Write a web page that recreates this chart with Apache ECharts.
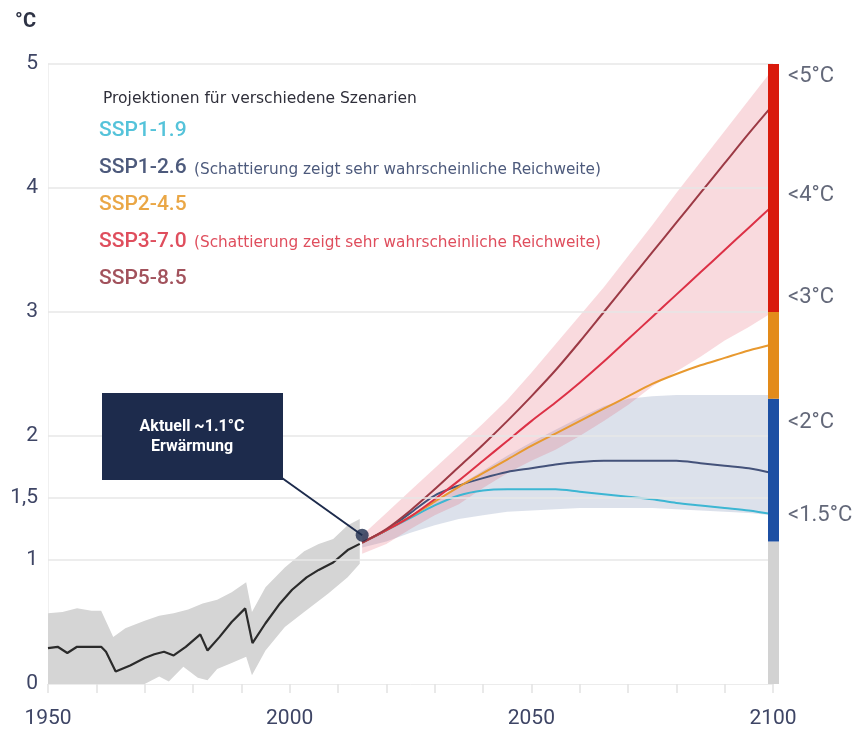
<!DOCTYPE html>
<html>
<head>
<meta charset="utf-8">
<script src="https://cdn.jsdelivr.net/npm/echarts@6/dist/echarts.min.js"></script>
<style>
html, body { margin: 0; padding: 0; background: #fff; }
#main { width: 864px; height: 735px; }
</style>
</head>
<body>
<div id="main"></div>
<script>
// historical warming (year, °C)
const histLine = [[1950,0.29],[1952,0.30],[1954,0.25],[1956,0.30],[1961,0.30],[1962,0.26],[1964,0.10],[1967,0.15],[1970,0.21],[1972,0.24],[1974,0.26],[1976,0.23],[1978.5,0.30],[1981.5,0.40],[1983,0.27],[1985.5,0.38],[1988,0.50],[1990.8,0.61],[1992.3,0.33],[1995,0.49],[1998,0.65],[2000.5,0.76],[2003.5,0.86],[2006,0.92],[2009,0.98],[2012,1.08],[2014.5,1.13]];
const histUpper = [[1950,0.57],[1953,0.58],[1956,0.61],[1959,0.59],[1961,0.59],[1963.5,0.38],[1966,0.45],[1970,0.51],[1973,0.55],[1976,0.57],[1979,0.60],[1982,0.65],[1985,0.68],[1988,0.74],[1991,0.82],[1992.2,0.58],[1995,0.78],[1999,0.94],[2003,1.07],[2006,1.13],[2009,1.17],[2012,1.28],[2014.5,1.33]];
const histLower = [[1950,0],[1970,0],[1973,0.06],[1975,0.02],[1978,0.14],[1981,0.05],[1983,0.03],[1985,0.12],[1988,0.17],[1991,0.22],[1992.2,0.07],[1995,0.27],[1999,0.46],[2003,0.58],[2008,0.73],[2012,0.86],[2014.5,0.97]];
const nowPoint = [2015, 1.2];

// projections
const projYears = [2015,2020,2025,2030,2035,2040,2045,2050,2055,2060,2065,2070,2075,2080,2085,2090,2095,2100];
const ssp119 = [1.14,1.24,1.34,1.44,1.52,1.56,1.57,1.57,1.57,1.55,1.53,1.51,1.49,1.46,1.44,1.42,1.40,1.37];
const ssp126 = [1.14,1.24,1.38,1.52,1.60,1.66,1.71,1.74,1.77,1.79,1.80,1.80,1.80,1.80,1.78,1.76,1.74,1.70];
const ssp245 = [1.14,1.24,1.35,1.47,1.59,1.70,1.81,1.92,2.02,2.12,2.22,2.32,2.42,2.50,2.57,2.63,2.69,2.74];
const ssp370 = [1.14,1.24,1.35,1.49,1.64,1.80,1.96,2.12,2.27,2.43,2.60,2.78,2.96,3.14,3.32,3.50,3.68,3.86];
const ssp585 = [1.14,1.25,1.40,1.57,1.75,1.93,2.12,2.32,2.53,2.76,3.00,3.24,3.48,3.72,3.96,4.20,4.44,4.67];
const ssp126Upper = [1.15,1.25,1.36,1.48,1.60,1.72,1.84,1.95,2.05,2.15,2.24,2.30,2.32,2.33,2.33,2.33,2.33,2.33];
const ssp126Lower = [1.10,1.15,1.22,1.28,1.33,1.36,1.39,1.40,1.41,1.42,1.42,1.42,1.42,1.41,1.40,1.39,1.38,1.36];
const ssp370Upper = [1.20,1.38,1.56,1.74,1.92,2.10,2.29,2.51,2.74,2.97,3.20,3.45,3.70,3.96,4.21,4.46,4.71,4.96];
const ssp370Lower = [1.05,1.13,1.25,1.36,1.45,1.58,1.70,1.80,1.89,2.00,2.12,2.25,2.40,2.52,2.64,2.77,2.88,3.00];

// right-hand scale bar and labels
const barStops = [0, 1.15, 2.3, 3.0, 5.0];
const barColors = ['#d2d2d2', '#1c4fa3', '#e38b1a', '#d91a0c'];
const rightLabelVals = [4.9, 3.94, 3.12, 2.11, 1.36];
const rightLabels = ['<5°C', '<4°C', '<3°C', '<2°C', '<1.5°C'];

// axis labels and grid lines
const xLabelYears = [1950, 2000, 2050, 2100];
const yLabels = { 0: '0', 1: '1', 1.5: '1,5', 2: '2', 3: '3', 4: '4', 5: '5' };
const gridVals = [1, 1.5, 2, 3, 4, 5];

const scenarios = ['SSP1-1.9', 'SSP1-2.6', 'SSP2-4.5', 'SSP3-7.0', 'SSP5-8.5'];
const scenarioColors = ['#3db6d3', '#44527a', '#e8992f', '#dc3146', '#9c3a45'];
const legendColors = ['#55c3da', '#4d5a7c', '#eaa746', '#df4e5d', '#a2525c'];
const scenarioData = [ssp119, ssp126, ssp245, ssp370, ssp585];

const axisColor = '#3e4565';
const labelFont = 'Roboto, sans-serif';

function pairs(vals) {
    return projYears.map((y, i) => [y, vals[i]]);
}

function bandSeries(name, upper, lower, color) {
    return {
        type: 'custom',
        name: name,
        silent: true,
        z: 1,
        data: [[2015, 1]],
        renderItem: function (params, api) {
            const pts = upper.map(p => api.coord(p))
                .concat(lower.slice().reverse().map(p => api.coord(p)));
            return { type: 'polygon', shape: { points: pts }, style: { fill: color } };
        }
    };
}

const chart = echarts.init(document.getElementById('main'));

const series = [
    {
        type: 'line',
        name: 'grid',
        data: [[1950, 0]],
        showSymbol: false,
        silent: true,
        lineStyle: { opacity: 0 },
        z: 0,
        markLine: {
            silent: true,
            symbol: 'none',
            label: { show: false },
            lineStyle: { color: '#e7e7e7', type: 'solid', width: 1.5 },
            data: gridVals.map(v => ({ yAxis: v }))
        }
    },
    bandSeries('hist-band', histUpper, histLower, '#d5d5d5'),
    bandSeries('ssp126-band', pairs(ssp126Upper), pairs(ssp126Lower), 'rgba(120,140,178,0.26)'),
    bandSeries('ssp370-band', pairs(ssp370Upper), pairs(ssp370Lower), 'rgba(228,85,105,0.22)'),
    {
        type: 'line',
        name: 'hist',
        data: histLine,
        showSymbol: false,
        lineStyle: { color: '#2b2b2b', width: 2.2 },
        z: 3
    }
];

scenarioData.forEach((vals, i) => {
    series.push({
        type: 'line',
        name: scenarios[i],
        data: pairs(vals),
        showSymbol: false,
        smooth: 0.3,
        lineStyle: { color: scenarioColors[i], width: 2 },
        z: 4
    });
});

series.push({
    type: 'custom',
    name: 'scale-bar',
    silent: true,
    z: 5,
    encode: { x: 0, y: [1, 2] },
    data: barColors.map((c, i) => [2100, barStops[i], barStops[i + 1]]),
    renderItem: function (params, api) {
        const top = api.coord([api.value(0), api.value(2)]);
        const bottom = api.coord([api.value(0), api.value(1)]);
        return {
            type: 'rect',
            shape: { x: top[0] - 5, y: top[1], width: 11, height: bottom[1] - top[1] },
            style: { fill: barColors[params.dataIndex] }
        };
    }
});

series.push({
    type: 'scatter',
    name: 'scale-labels',
    silent: true,
    symbolSize: 0,
    data: rightLabelVals.map(v => [2100, v]),
    label: {
        show: true,
        position: 'right',
        distance: 15,
        color: '#3c4257',
        fontSize: 22,
        fontFamily: labelFont,
        formatter: p => rightLabels[p.dataIndex]
    }
});

series.push({
    type: 'scatter',
    name: 'now',
    silent: true,
    symbolSize: 13,
    itemStyle: { color: '#1d2b4c' },
    data: [nowPoint],
    z: 6
});

chart.setOption({
    animation: false,
    grid: { left: 48, right: 91, top: 64, bottom: 51 },
    xAxis: {
        type: 'value',
        min: 1950,
        max: 2100,
        interval: 10,
        splitLine: { show: false },
        axisLine: { show: true, lineStyle: { color: '#ececec' } },
        axisTick: { show: true, length: 9, lineStyle: { color: '#e2e2e2', width: 1.5 } },
        axisLabel: {
            margin: 24,
            color: axisColor,
            fontSize: 21,
            fontFamily: labelFont,
            formatter: v => xLabelYears.indexOf(v) >= 0 ? String(v) : ''
        }
    },
    yAxis: {
        type: 'value',
        min: 0,
        max: 5,
        interval: 0.5,
        name: '°C',
        nameLocation: 'end',
        nameGap: 32,
        nameTextStyle: { color: '#2e3345', fontSize: 20, fontWeight: 'bold', fontFamily: labelFont, align: 'right', padding: [0, 12, 0, 0] },
        splitLine: { show: false },
        axisLine: { show: true, lineStyle: { color: '#f0f0f0' } },
        axisTick: { show: false },
        axisLabel: {
            margin: 10,
            color: axisColor,
            fontSize: 21,
            fontFamily: labelFont,
            formatter: v => yLabels[v] !== undefined ? yLabels[v] : ''
        }
    },
    series: series
});

// legend block and annotation
const nowPx = chart.convertToPixel({ gridIndex: 0 }, nowPoint);
const legendY = [133, 170, 207, 244, 281];
const graphics = [
    {
        type: 'text', left: 103, top: 91,
        style: { text: 'Projektionen für verschiedene Szenarien', fill: '#2f2f3a', font: '15.5px "DejaVu Sans", sans-serif' }
    }
];
scenarios.forEach((s, i) => {
    graphics.push({
        type: 'text', left: 99, top: legendY[i] - 13,
        style: { text: s, fill: legendColors[i], font: '500 21px Roboto, sans-serif' }
    });
});
graphics.push({
    type: 'text', left: 194, top: 163,
    style: { text: '(Schattierung zeigt sehr wahrscheinliche Reichweite)', fill: '#4d5a7c', font: '15.3px "DejaVu Sans", sans-serif' }
});
graphics.push({
    type: 'text', left: 194, top: 236,
    style: { text: '(Schattierung zeigt sehr wahrscheinliche Reichweite)', fill: '#df4e5d', font: '15.3px "DejaVu Sans", sans-serif' }
});
graphics.push({
    type: 'line', z: 10,
    shape: { x1: 282, y1: 478, x2: nowPx[0], y2: nowPx[1] },
    style: { stroke: '#1d2b4c', lineWidth: 2 }
});
graphics.push({
    type: 'rect', z: 10,
    shape: { x: 102, y: 393, width: 181, height: 87 },
    style: { fill: '#1d2b4c' }
});
graphics.push({
    type: 'text', z: 11, x: 192, y: 427,
    style: { text: 'Aktuell ~1.1°C', fill: '#ffffff', font: 'bold 16px Roboto, sans-serif', align: 'center', verticalAlign: 'middle' }
});
graphics.push({
    type: 'text', z: 11, x: 192, y: 447,
    style: { text: 'Erwärmung', fill: '#ffffff', font: 'bold 16px Roboto, sans-serif', align: 'center', verticalAlign: 'middle' }
});
chart.setOption({ graphic: graphics });
</script>
</body>
</html>
